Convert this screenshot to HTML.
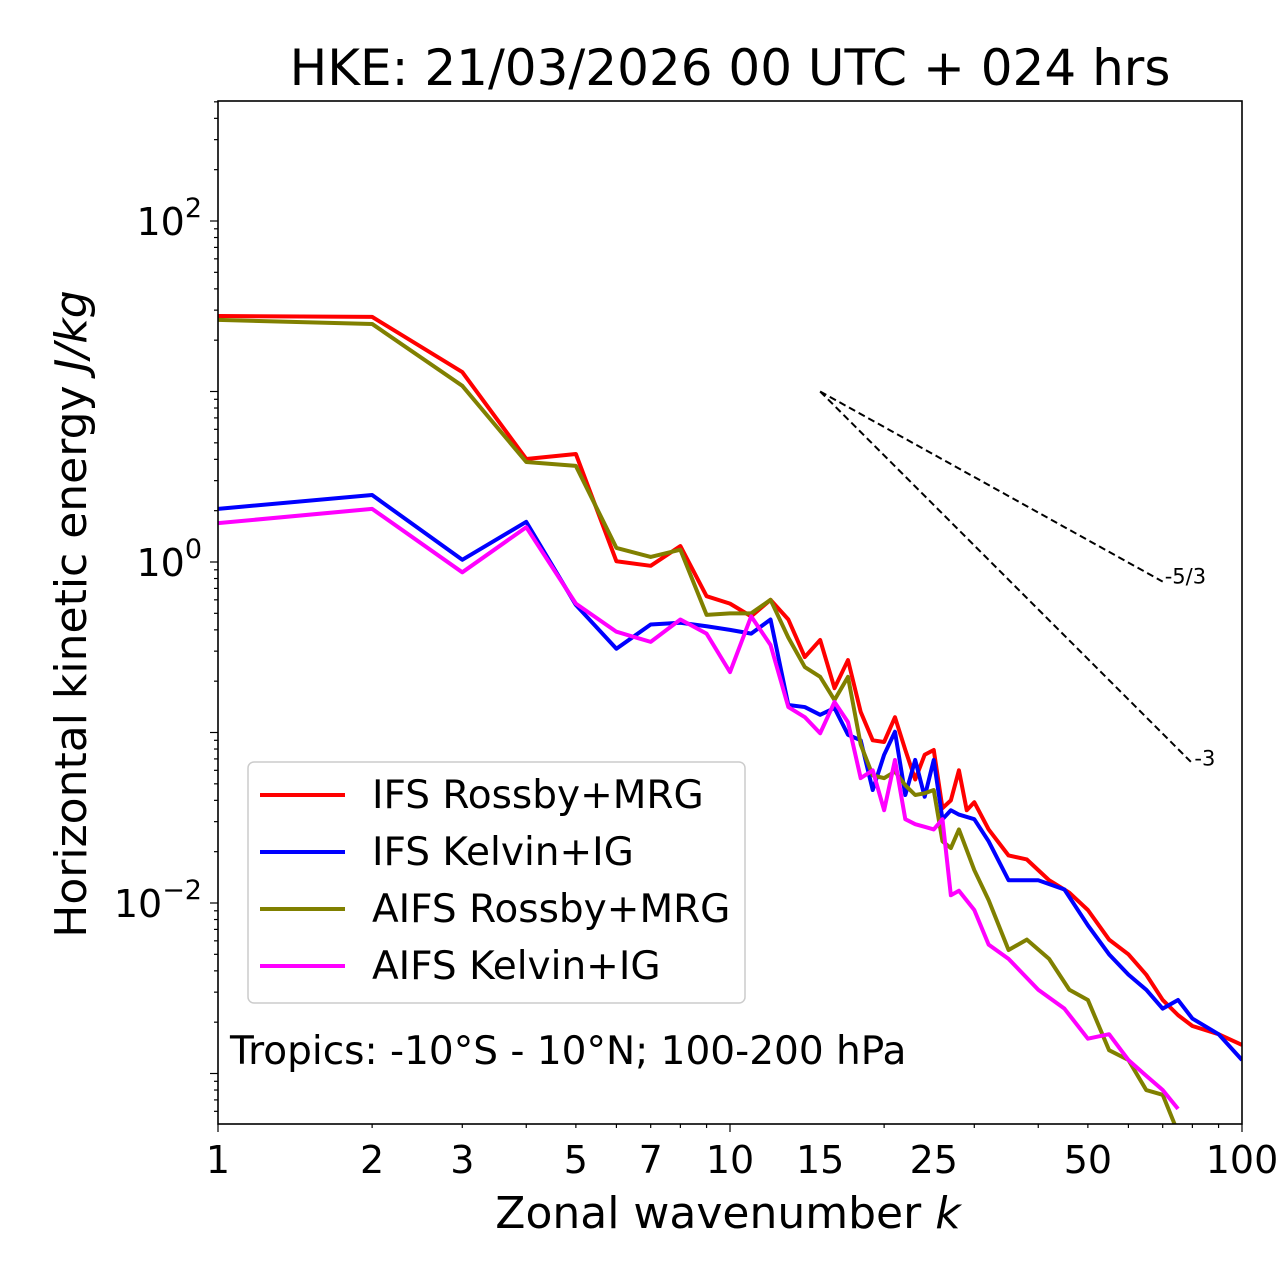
<!DOCTYPE html>
<html><head><meta charset="utf-8"><style>
html,body{margin:0;padding:0;background:#fff;}
svg{display:block;font-family:"DejaVu Sans","Liberation Sans",sans-serif;}
</style></head><body>
<svg id="chart" width="1280" height="1288" viewBox="0 0 1280 1288">
<defs><clipPath id="clip"><rect x="218" y="101" width="1024" height="1023"/></clipPath></defs>
<text x="730" y="85" font-size="50" text-anchor="middle">HKE: 21/03/2026 00 UTC + 024 hrs</text>
<g id="axes"></g>
<g id="series" clip-path="url(#clip)"></g>
<rect x="218" y="101" width="1024" height="1023" fill="none" stroke="#000" stroke-width="1.6"/>
<text x="728" y="1228" font-size="44" text-anchor="middle">Zonal wavenumber <tspan font-style="italic">k</tspan></text>
<text transform="translate(86,614) rotate(-90)" font-size="44" text-anchor="middle">Horizontal kinetic energy <tspan font-style="italic">J/kg</tspan></text>
<g>
<rect x="248" y="762" width="497" height="241" rx="6" fill="#fff" fill-opacity="0.8" stroke="#ccc" stroke-width="1.5"/>
<g><line x1="260" y1="795" x2="345" y2="795" stroke="#ff0000" stroke-width="4"/><text x="372" y="808" font-size="39">IFS Rossby+MRG</text></g>
<g><line x1="260" y1="852" x2="345" y2="852" stroke="#0000ff" stroke-width="4"/><text x="372" y="865" font-size="39">IFS Kelvin+IG</text></g>
<g><line x1="260" y1="909" x2="345" y2="909" stroke="#808000" stroke-width="4"/><text x="372" y="922" font-size="39">AIFS Rossby+MRG</text></g>
<g><line x1="260" y1="966" x2="345" y2="966" stroke="#ff00ff" stroke-width="4"/><text x="372" y="979" font-size="39">AIFS Kelvin+IG</text></g>
</g>
<text x="230" y="1064" font-size="39">Tropics: -10°S - 10°N; 100-200 hPa</text>
</svg>
<script>
const ifsRossbyK=[1,2,3,4,5,6,7,8,9,10,11,12,13,14,15,16,17,18,19,20,21,22,23,24,25,26,27,28,29,30,32,35,38,42,46,50,55,60,65,70,75,80,90,100];
const ifsRossbyV=[27.7,27.4,13.0,4.02,4.30,1.01,0.95,1.24,0.63,0.57,0.48,0.60,0.46,0.277,0.349,0.182,0.266,0.132,0.090,0.088,0.123,0.079,0.053,0.074,0.079,0.036,0.040,0.060,0.035,0.039,0.027,0.019,0.018,0.0136,0.0115,0.0091,0.0061,0.0050,0.0038,0.0027,0.0022,0.0019,0.0017,0.00147];
const ifsKelvinK=[1,2,3,4,5,6,7,8,9,10,11,12,13,14,15,16,17,18,19,20,21,22,23,24,25,26,27,28,30,32,35,40,45,50,55,60,65,70,75,80,90,100];
const ifsKelvinV=[2.05,2.47,1.03,1.72,0.56,0.31,0.43,0.44,0.42,0.40,0.38,0.46,0.145,0.141,0.127,0.139,0.097,0.090,0.046,0.074,0.101,0.043,0.069,0.042,0.069,0.031,0.035,0.033,0.031,0.023,0.0136,0.0136,0.012,0.0074,0.0050,0.0038,0.0031,0.0024,0.0027,0.0021,0.0017,0.0012];
const aifsRossbyK=[1,2,3,4,5,6,7,8,9,10,11,12,13,14,15,16,17,18,19,20,21,22,23,24,25,26,27,28,30,32,35,38,42,46,50,55,60,65,70,75];
const aifsRossbyV=[26.3,24.9,10.8,3.86,3.66,1.21,1.07,1.18,0.49,0.50,0.50,0.60,0.36,0.242,0.212,0.155,0.212,0.085,0.056,0.054,0.059,0.049,0.043,0.044,0.046,0.023,0.021,0.027,0.0156,0.0104,0.0053,0.0061,0.0047,0.0031,0.0027,0.00137,0.0012,0.0008,0.00075,0.00045];
const aifsKelvinK=[1,2,3,4,5,6,7,8,9,10,11,12,13,14,15,16,17,18,19,20,21,22,23,24,25,26,27,28,30,32,35,40,45,50,55,60,65,70,75];
const aifsKelvinV=[1.69,2.05,0.87,1.60,0.57,0.39,0.34,0.46,0.38,0.226,0.48,0.326,0.141,0.123,0.099,0.151,0.115,0.054,0.060,0.035,0.069,0.031,0.029,0.028,0.027,0.031,0.0111,0.0118,0.0091,0.0057,0.0047,0.0031,0.0024,0.0016,0.0017,0.0012,0.00097,0.0008,0.00062];
const xTicks=[1,2,3,5,7,10,15,25,50,100];
const yDecades=[-4,-3,-2,-1,0,1,2];
const yLabeled=[-2,0,2];
const refStartK=15, refStartV=10, refSlopes=[-5/3,-3], refEndK=[70,80], refLabels=["-5/3","-3"];

const NS="http://www.w3.org/2000/svg";
const X=k=>218+512*Math.log10(k);
const Y=v=>562-170.5*Math.log10(v);
const axes=document.getElementById('axes'), ser=document.getElementById('series');
function mk(tag,attrs,parent){const e=document.createElementNS(NS,tag);for(const a in attrs)e.setAttribute(a,attrs[a]);parent.appendChild(e);return e;}
for(let d=0;d<2;d++)for(let m=1;m<10;m++){const k=m*Math.pow(10,d);const x=X(k);
  const t=mk('line',{x1:x,y1:1124,x2:x,y2:m===1?1132:1128,stroke:'#000','stroke-width':1.2},axes);
  
  }
mk('line',{x1:X(100),y1:1124,x2:X(100),y2:1132,stroke:'#000','stroke-width':1.2},axes);
xTicks.forEach(k=>{const t=mk('text',{x:X(k),y:1173,'font-size':38,'text-anchor':'middle'},axes);t.textContent=k;
  
  });
yDecades.forEach(d=>{for(let m=1;m<10;m++){const v=m*Math.pow(10,d);const y=Y(v);if(y<101||y>1124)continue;
  const t=mk('line',{x1:218,y1:y,x2:m===1?210:214,y2:y,stroke:'#000','stroke-width':1.2},axes);
  
  }});
yLabeled.forEach(d=>{const y=Y(Math.pow(10,d));
  const t=mk('text',{x:202,y:y+14,'font-size':38,'text-anchor':'end'},axes);
  
  
  t.textContent='10';const s=mk('tspan',{dy:-18,'font-size':27},t);s.textContent=d===-2?'−2':String(d);});
refSlopes.forEach((s,i)=>{const x1=X(refStartK),y1=Y(refStartV),k2=refEndK[i],v2=refStartV*Math.pow(k2/refStartK,s);
  const l=mk('line',{x1:x1,y1:y1,x2:X(k2),y2:Y(v2),stroke:'#000','stroke-width':2,'stroke-dasharray':'7,4'},ser);
  
  
  const t=mk('text',{x:X(k2)+2,y:Y(v2)+2,'font-size':21},document.getElementById('chart'));t.textContent=refLabels[i];
  
  });
function series(ks,vs,color,name){const p=mk('polyline',{points:ks.map((k,i)=>X(k)+','+Y(vs[i])).join(' '),fill:'none',stroke:color,'stroke-width':4,'stroke-linejoin':'round'},ser);
  
  }
series(ifsRossbyK,ifsRossbyV,'#ff0000','ifs-rossby-line');
series(ifsKelvinK,ifsKelvinV,'#0000ff','ifs-kelvin-line');
series(aifsRossbyK,aifsRossbyV,'#808000','aifs-rossby-line');
series(aifsKelvinK,aifsKelvinV,'#ff00ff','aifs-kelvin-line');
</script>
</body></html>
